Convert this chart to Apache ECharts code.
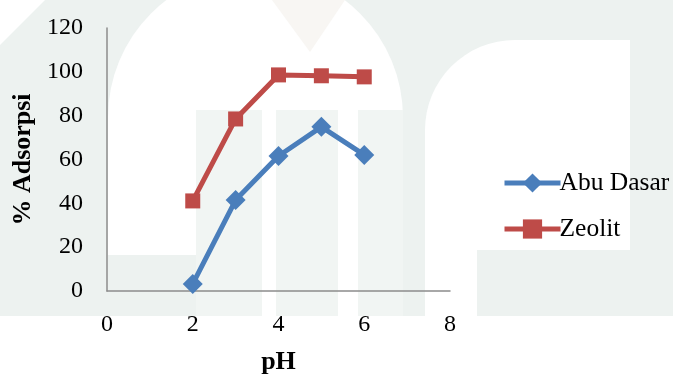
<!DOCTYPE html>
<html>
<head>
<meta charset="utf-8">
<script src="https://cdn.jsdelivr.net/npm/echarts@6/dist/echarts.min.js"></script>
<style>
  html, body { margin: 0; padding: 0; background: #ffffff; }
  #chart { width: 673px; height: 374px; }
</style>
</head>
<body>
<div id="chart"></div>
<script>
// pH values and % adsorption for each adsorbent
const phValues = [2, 3, 4, 5, 6];
const abuDasar = [3.2, 41.5, 61.6, 74.9, 62.1];
const zeolit = [41.1, 78.5, 98.6, 98.2, 97.7];
const seriesNames = ['Abu Dasar', 'Zeolit'];

const font = '"Liberation Serif", "Times New Roman", serif';
const toPairs = (ys) => phValues.map((x, i) => [x, ys[i]]);

const chart = echarts.init(document.getElementById('chart'), null, { renderer: 'canvas' });

// faint emblem printed behind the chart
const wash = '#edf2f0';
const pale = '#f1f5f3';
const white = '#ffffff';
const bg = [
  { type: 'rect', shape: { x: 0, y: 0, width: 673, height: 316 }, style: { fill: wash } },
  { type: 'polygon', shape: { points: [[0, 0], [45, 0], [0, 45]] }, style: { fill: white } },
  { type: 'rect', shape: { x: 108, y: -30, width: 295, height: 285, r: [148, 148, 0, 0] }, style: { fill: white } },
  { type: 'polygon', shape: { points: [[272, 0], [345, 0], [310, 52]] }, style: { fill: '#f8f6f3' } },
  { type: 'rect', shape: { x: 196, y: 110, width: 66, height: 206 }, style: { fill: pale } },
  { type: 'rect', shape: { x: 276, y: 110, width: 62, height: 206 }, style: { fill: pale } },
  { type: 'rect', shape: { x: 358, y: 110, width: 45, height: 206 }, style: { fill: pale } },
  { type: 'rect', shape: { x: 425, y: 40, width: 205, height: 210, r: [90, 0, 0, 0] }, style: { fill: white } },
  { type: 'rect', shape: { x: 425, y: 240, width: 52, height: 80 }, style: { fill: white } },
  { type: 'rect', shape: { x: 262, y: 200, width: 14, height: 125 }, style: { fill: white } },
  { type: 'rect', shape: { x: 338, y: 200, width: 20, height: 125 }, style: { fill: white } }
].map(g => Object.assign(g, { silent: true, z: -10 }));

chart.setOption({
  animation: false,
  backgroundColor: '#ffffff',
  graphic: bg,
  grid: { left: 107, right: 223, top: 28, bottom: 83, outerBoundsMode: 'none' },
  legend: {
    orient: 'vertical',
    left: 497,
    top: 165,
    itemGap: 20,
    itemWidth: 56,
    itemHeight: 24,
    lineStyle: { width: 5 },
    textStyle: { fontFamily: font, fontSize: 25.5, color: '#000', padding: [0, 0, 0, -6] },
    data: seriesNames
  },
  xAxis: {
    type: 'value',
    min: 0, max: 8, interval: 2,
    name: 'pH',
    nameLocation: 'middle',
    nameGap: 58,
    nameTextStyle: { fontFamily: font, fontSize: 26, fontWeight: 'bold', color: '#000' },
    axisLine: { lineStyle: { color: '#8c8c8c', width: 1.5 } },
    axisTick: { show: false },
    splitLine: { show: false },
    axisLabel: { fontFamily: font, fontSize: 24, color: '#000', margin: 22 }
  },
  yAxis: {
    type: 'value',
    min: 0, max: 120, interval: 20,
    name: '% Adsorpsi',
    nameLocation: 'middle',
    nameGap: 68,
    nameTextStyle: { fontFamily: font, fontSize: 26, fontWeight: 'bold', color: '#000' },
    axisLine: { show: true, lineStyle: { color: '#8c8c8c', width: 1.5 } },
    axisTick: { show: false },
    splitLine: { show: false },
    axisLabel: { fontFamily: font, fontSize: 24, color: '#000', margin: 24 }
  },
  series: [
    {
      name: seriesNames[0],
      type: 'line',
      data: toPairs(abuDasar),
      symbol: 'diamond',
      symbolSize: 20,
      lineStyle: { color: '#4a7ebb', width: 5 },
      itemStyle: { color: '#4a7ebb' }
    },
    {
      name: seriesNames[1],
      type: 'line',
      data: toPairs(zeolit),
      symbol: 'rect',
      symbolSize: 15,
      lineStyle: { color: '#be4b48', width: 5 },
      itemStyle: { color: '#be4b48' }
    }
  ]
});
</script>
</body>
</html>
